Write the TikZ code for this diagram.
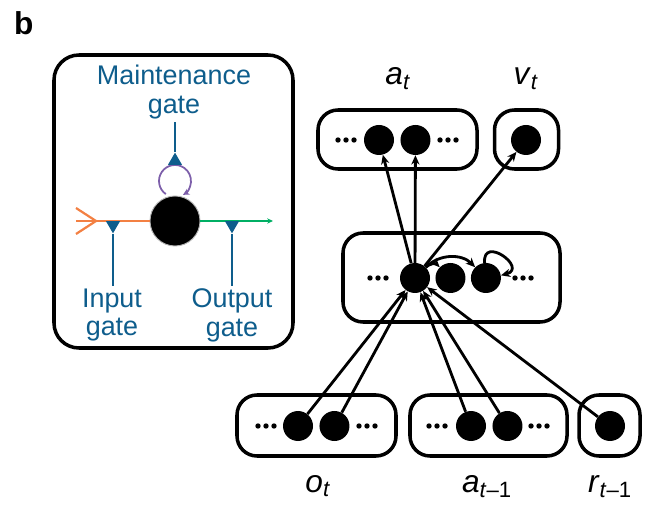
\documentclass[tikz,border=0pt]{standalone}
\usepackage{fontspec}
\setmainfont{Liberation Sans}
\usepackage{xcolor}
\usepackage{tikz}
\usetikzlibrary{shapes.geometric, arrows.meta, positioning}

\definecolor{gateblue}{RGB}{14,93,140}
\definecolor{inorange}{RGB}{243,128,67}
\definecolor{outgreen}{RGB}{0,175,100}
\definecolor{looppurple}{RGB}{125,95,170}

\begin{document}
\begin{tikzpicture}[
    x=0.3mm, y=0.3mm,
    node distance=1.8mm,
    box/.style={rectangle, rounded corners=6mm, draw, line width=3pt, inner sep=0pt},
    unit/.style={circle, fill=black, minimum size=9mm, inner sep=0pt},
    arrow/.style={-{Stealth[length=8pt,width=7pt]}, line width=2.4pt},
    gatetext/.style={text=gateblue, align=center, inner sep=2pt, font=\fontsize{23}{24.7}\selectfont},
    gatemark/.style={regular polygon, regular polygon sides=3, fill=gateblue, minimum size=4.85mm, inner sep=0pt},
    gateline/.style={draw=gateblue, line width=2.2pt},
    varname/.style={anchor=base, font=\fontsize{27}{30}\selectfont},
    ellipsis/.pic={\foreach \d in {-8,0,8} \fill (\d,0) circle (2.7);}
]
\useasboundingbox (0,0) rectangle (650,516);

\node[anchor=base west, font=\bfseries\fontsize{27}{30}\selectfont] (panel) at (10,481) {b};

% gated unit
\node[box, rounded corners=7.5mm, minimum width=71.7mm, minimum height=87.9mm] (cellbox) at (173.5,314.5) {};
\node[unit, minimum size=15mm, draw=gray!60, line width=0.8pt] (cell) at (175,295) {};
\node[gatetext] (maint) at (174,424) {Maintenance\\gate};
\node[gatetext] (ingate) at (112,201) {Input\\gate};
\node[gatetext] (outgate) at (232,201) {Output\\gate};

\coordinate (in) at (76,295);
\coordinate (out) at (273,295);
\coordinate (loopc) at (175,335);

\draw[inorange, line width=1.9pt] (in) -- (cell);
\draw[inorange, line width=1.9pt] ([shift={(0,13)}]in) -- ([shift={(20,0)}]in) -- ([shift={(0,-13)}]in);
\draw[outgreen, line width=1.9pt, -{Stealth[length=5pt,width=4.5pt]}] (cell) -- (out);
\draw[looppurple, line width=1.5pt, -{Stealth[length=5.5pt,width=5.5pt]}] ([shift={(235:16)}]loopc) arc[start angle=235, end angle=-60, radius=16];

\node[gatemark, shape border rotate=180, anchor=north] (inmark) at (113,295) {};
\node[gatemark, shape border rotate=180, anchor=north] (outmark) at (232,295) {};
\node[gatemark, anchor=south] (maintmark) at (175,351) {};
\draw[gateline] (inmark.south) -- (inmark.south |- ingate.north);
\draw[gateline] (outmark.south) -- (outmark.south |- outgate.north);
\draw[gateline] (maintmark.north) -- (maintmark.north |- maint.south);

% network
\node[box, minimum width=47.7mm, minimum height=17.7mm] (actbox) at (397.5,376.5) {};
\node[box, minimum width=19.2mm, minimum height=17.7mm] (valbox) at (526.5,376.5) {};
\node[box, minimum width=65.1mm, minimum height=26.7mm] (hidbox) at (451.5,238.5) {};
\node[box, minimum width=47.7mm, minimum height=18.3mm] (obsbox) at (316.5,90.5) {};
\node[box, minimum width=47.1mm, minimum height=18.3mm] (prevbox) at (488.5,90.5) {};
\node[box, minimum width=18.3mm, minimum height=18.3mm] (rewbox) at (609.5,90.5) {};

\node[unit] (a1) at (379,376) {};
\node[unit, right=of a1] (a2) {};
\node[unit] (v1) at (526,376) {};
\node[unit] (h1) at (415,238) {};
\node[unit, right=1.5mm of h1] (h2) {};
\node[unit, right=1.5mm of h2] (h3) {};
\node[unit] (o1) at (298,90) {};
\node[unit, right=of o1] (o2) {};
\node[unit] (p1) at (471,90) {};
\node[unit, right=of p1] (p2) {};
\node[unit] (r1) at (610,90) {};

\pic at (346,376) {ellipsis};
\pic at (448,376) {ellipsis};
\pic at (378,238) {ellipsis};
\pic at (523,238) {ellipsis};
\pic at (266,90) {ellipsis};
\pic at (367,90) {ellipsis};
\pic at (437,90) {ellipsis};
\pic at (539,90) {ellipsis};

\node[varname] (actlbl) at (398,431) {\textit{a}\textsubscript{\textit{t}}};
\node[varname] (vallbl) at (526,431) {\textit{v}\textsubscript{\textit{t}}};
\node[varname] (obslbl) at (318,24) {\textit{o}\textsubscript{\textit{t}}};
\node[varname] (prevlbl) at (487,24) {\textit{a}\textsubscript{\textit{t}–1}};
\node[varname] (rewlbl) at (610,24) {\textit{r}\textsubscript{\textit{t}–1}};

\draw[arrow] (h1) -- (a1);
\draw[arrow] (h1) -- (a2);
\draw[arrow] (h1) -- (v1);
\draw[arrow] (o1) -- (h1);
\draw[arrow] (o2) -- (h1);
\draw[arrow] (p1) -- (h1);
\draw[arrow] (p2) -- (h1);
\draw[arrow] (r1) -- (h1);
\draw[arrow] (h1) to[bend left=45] (h2);
\draw[arrow] (h1) to[bend left=45] (h3);
\draw[arrow] (h3.95) to[out=95, in=15, looseness=3.5] (h3.10);

\end{tikzpicture}
\end{document}
